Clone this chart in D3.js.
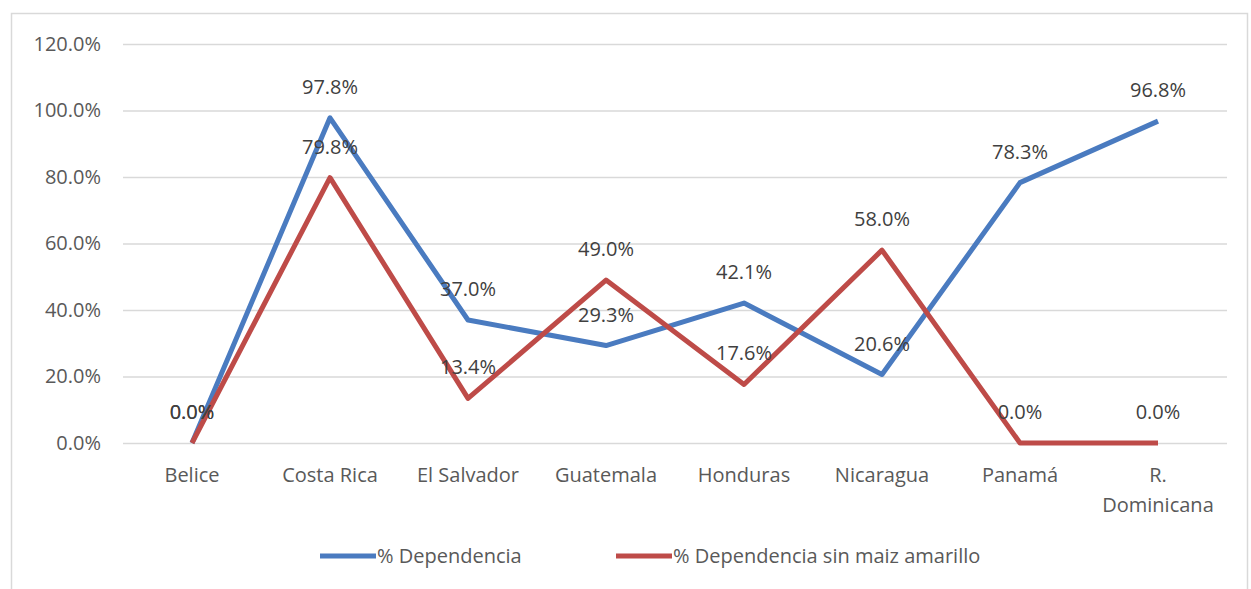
<!DOCTYPE html>
<html>
<head>
<meta charset="utf-8">
<script src="https://cdn.jsdelivr.net/npm/d3@7"></script>
<style>
  body { margin: 0; background: #fff; }
  text { font-family: "Open Sans", sans-serif; }
</style>
</head>
<body>
<svg id="chart" width="1251" height="589"></svg>
<script>
// chart data
const categories = ["Belice", "Costa Rica", "El Salvador", "Guatemala", "Honduras", "Nicaragua", "Panamá", "R. Dominicana"];
const dependencia = [0.0, 97.8, 37.0, 29.3, 42.1, 20.6, 78.3, 96.8];
const sinMaiz = [0.0, 79.8, 13.4, 49.0, 17.6, 58.0, 0.0, 0.0];
const yTicks = [0, 20, 40, 60, 80, 100, 120];
const seriesNames = ["% Dependencia", "% Dependencia sin maiz amarillo"];

const COLORS = {
  blue: "#4A7BC0",
  red: "#BE4B48",
  grid: "#d9d9d9",
  text: "#595959",
};

const svg = d3.select("#chart");
const width = 1251;
const margin = { left: 123, right: 24, top: 44, bottom: 146 };
const plotH = 589 - margin.top - margin.bottom;

// chart frame
svg.append("rect")
  .attr("x", 11.5).attr("y", 13.5)
  .attr("width", 1236).attr("height", 590)
  .attr("fill", "none").attr("stroke", COLORS.grid).attr("stroke-width", 1.5);

const x = d3.scalePoint()
  .domain(categories)
  .range([margin.left, width - margin.right])
  .padding(0.5);

const y = d3.scaleLinear()
  .domain([0, 120])
  .range([margin.top + plotH, margin.top]);

// gridlines + y labels
const yAxis = d3.axisLeft(y)
  .tickValues(yTicks)
  .tickSize(-(width - margin.right - margin.left))
  .tickFormat(d => d.toFixed(1) + "%")
  .tickPadding(22);

const gy = svg.append("g")
  .attr("transform", `translate(${margin.left},0)`)
  .call(yAxis);
gy.select(".domain").remove();
gy.selectAll(".tick line").attr("stroke", COLORS.grid).attr("stroke-width", 1.5);
gy.selectAll(".tick text")
  .attr("fill", COLORS.text)
  .style("font-size", "20px");

// x labels (wrapped)
const xLabels = svg.append("g");
categories.forEach(c => {
  const t = xLabels.append("text")
    .attr("x", x(c))
    .attr("y", y(0) + 39)
    .attr("text-anchor", "middle")
    .attr("fill", COLORS.text)
    .style("font-size", "20px");
  const parts = c === "R. Dominicana" ? ["R.", "Dominicana"] : [c];
  parts.forEach((p, i) => {
    t.append("tspan").attr("x", x(c)).attr("dy", i === 0 ? 0 : 30).text(p);
  });
});

const line = d3.line()
  .x((d, i) => x(categories[i]))
  .y(d => y(d));

const series = [
  { name: seriesNames[0], values: dependencia, color: COLORS.blue },
  { name: seriesNames[1], values: sinMaiz, color: COLORS.red },
];

series.forEach(s => {
  svg.append("path")
    .datum(s.values)
    .attr("fill", "none")
    .attr("stroke", s.color)
    .attr("stroke-width", 5)
    .attr("stroke-linejoin", "round")
    .attr("d", line);
});

// data labels (above points)
series.forEach(s => {
  svg.append("g")
    .selectAll("text")
    .data(s.values)
    .join("text")
    .attr("x", (d, i) => x(categories[i]))
    .attr("y", d => y(d) - 24)
    .attr("text-anchor", "middle")
    .attr("fill", "#404040")
    .style("font-size", "20px")
    .text(d => d.toFixed(1) + "%");
});

// legend
const legend = svg.append("g").attr("transform", "translate(0,556)");
const legendX = [320, 616];
series.forEach((s, i) => {
  legend.append("line")
    .attr("x1", legendX[i]).attr("x2", legendX[i] + 56)
    .attr("y1", 0).attr("y2", 0)
    .attr("stroke", s.color).attr("stroke-width", 5);
  legend.append("text")
    .attr("x", legendX[i] + 57)
    .attr("y", 7)
    .attr("fill", COLORS.text)
    .style("font-size", "20px")
    .text(s.name);
});
</script>
</body>
</html>
